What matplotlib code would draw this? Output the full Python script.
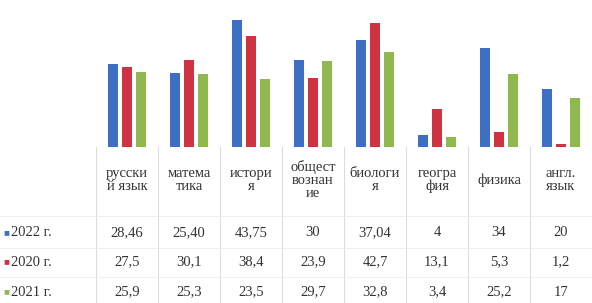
import matplotlib.pyplot as plt
import numpy as np

plt.rcParams['font.family'] = ['Liberation Serif', 'DejaVu Serif']

subjects = ["русски\nй язык", "матема\nтика", "истори\nя", "общест\nвознан\nие",
            "биологи\nя", "геогра\nфия", "физика", "англ.\nязык"]
years = ["2022 г.", "2020 г.", "2021 г."]
v2022 = [28.46, 25.40, 43.75, 30, 37.04, 4, 34, 20]
v2020 = [27.5, 30.1, 38.4, 23.9, 42.7, 13.1, 5.3, 1.2]
v2021 = [25.9, 25.3, 23.5, 29.7, 32.8, 3.4, 25.2, 17]
labels2022 = ["28,46", "25,40", "43,75", "30", "37,04", "4", "34", "20"]
labels2020 = ["27,5", "30,1", "38,4", "23,9", "42,7", "13,1", "5,3", "1,2"]
labels2021 = ["25,9", "25,3", "23,5", "29,7", "32,8", "3,4", "25,2", "17"]
colors = ["#3d6fc2", "#cf3341", "#8fb84f"]

W, H = 592, 303
fig = plt.figure(figsize=(W / 100, H / 100), dpi=100)
left, right, base, top = 96, 592, 147, 2
ax = fig.add_axes([left / W, 1 - base / H, (right - left) / W, (base - top) / H])

x = np.arange(len(subjects))
bw = 0.17
step = 0.225
for i, vals in enumerate([v2022, v2020, v2021]):
    ax.bar(x + (i - 1) * step, vals, width=bw, color=colors[i], edgecolor='none')

ax.set_xlim(-0.5, len(subjects) - 0.5)
ax.set_ylim(0, 50)
ax.axis('off')

# table area
col_w = (right - left) / len(subjects)
line_c = "#dcdcdc"
for k in range(len(subjects) + 1):
    xx = left + k * col_w
    fig.add_artist(plt.Line2D([xx / W, xx / W], [1 - base / H, 0], color=line_c, lw=0.8))
for yy in [216, 248, 277]:
    fig.add_artist(plt.Line2D([0, 1], [1 - yy / H, 1 - yy / H], color="#ececec", lw=0.6))

for k, s in enumerate(subjects):
    cx = left + (k + 0.5) * col_w
    fig.text(cx / W, 1 - 180 / H, s, ha='center', va='center', fontsize=10.5,
             color='#333333', linespacing=1.0)

rows_y = [233, 262, 292]
for r, labs in enumerate([labels2022, labels2020, labels2021]):
    ry = 1 - rows_y[r] / H
    fig.text(6 / W, ry, "■", ha='center', va='center', fontsize=7, color=colors[r])
    fig.text(11 / W, ry, years[r], ha='left', va='center', fontsize=10.5, color='#333333')
    for k, lab in enumerate(labs):
        cx = left + (k + 0.5) * col_w
        fig.text(cx / W, ry, lab, ha='center', va='center', fontsize=10.5, color='#333333')

fig.savefig("out.png", dpi=100)
